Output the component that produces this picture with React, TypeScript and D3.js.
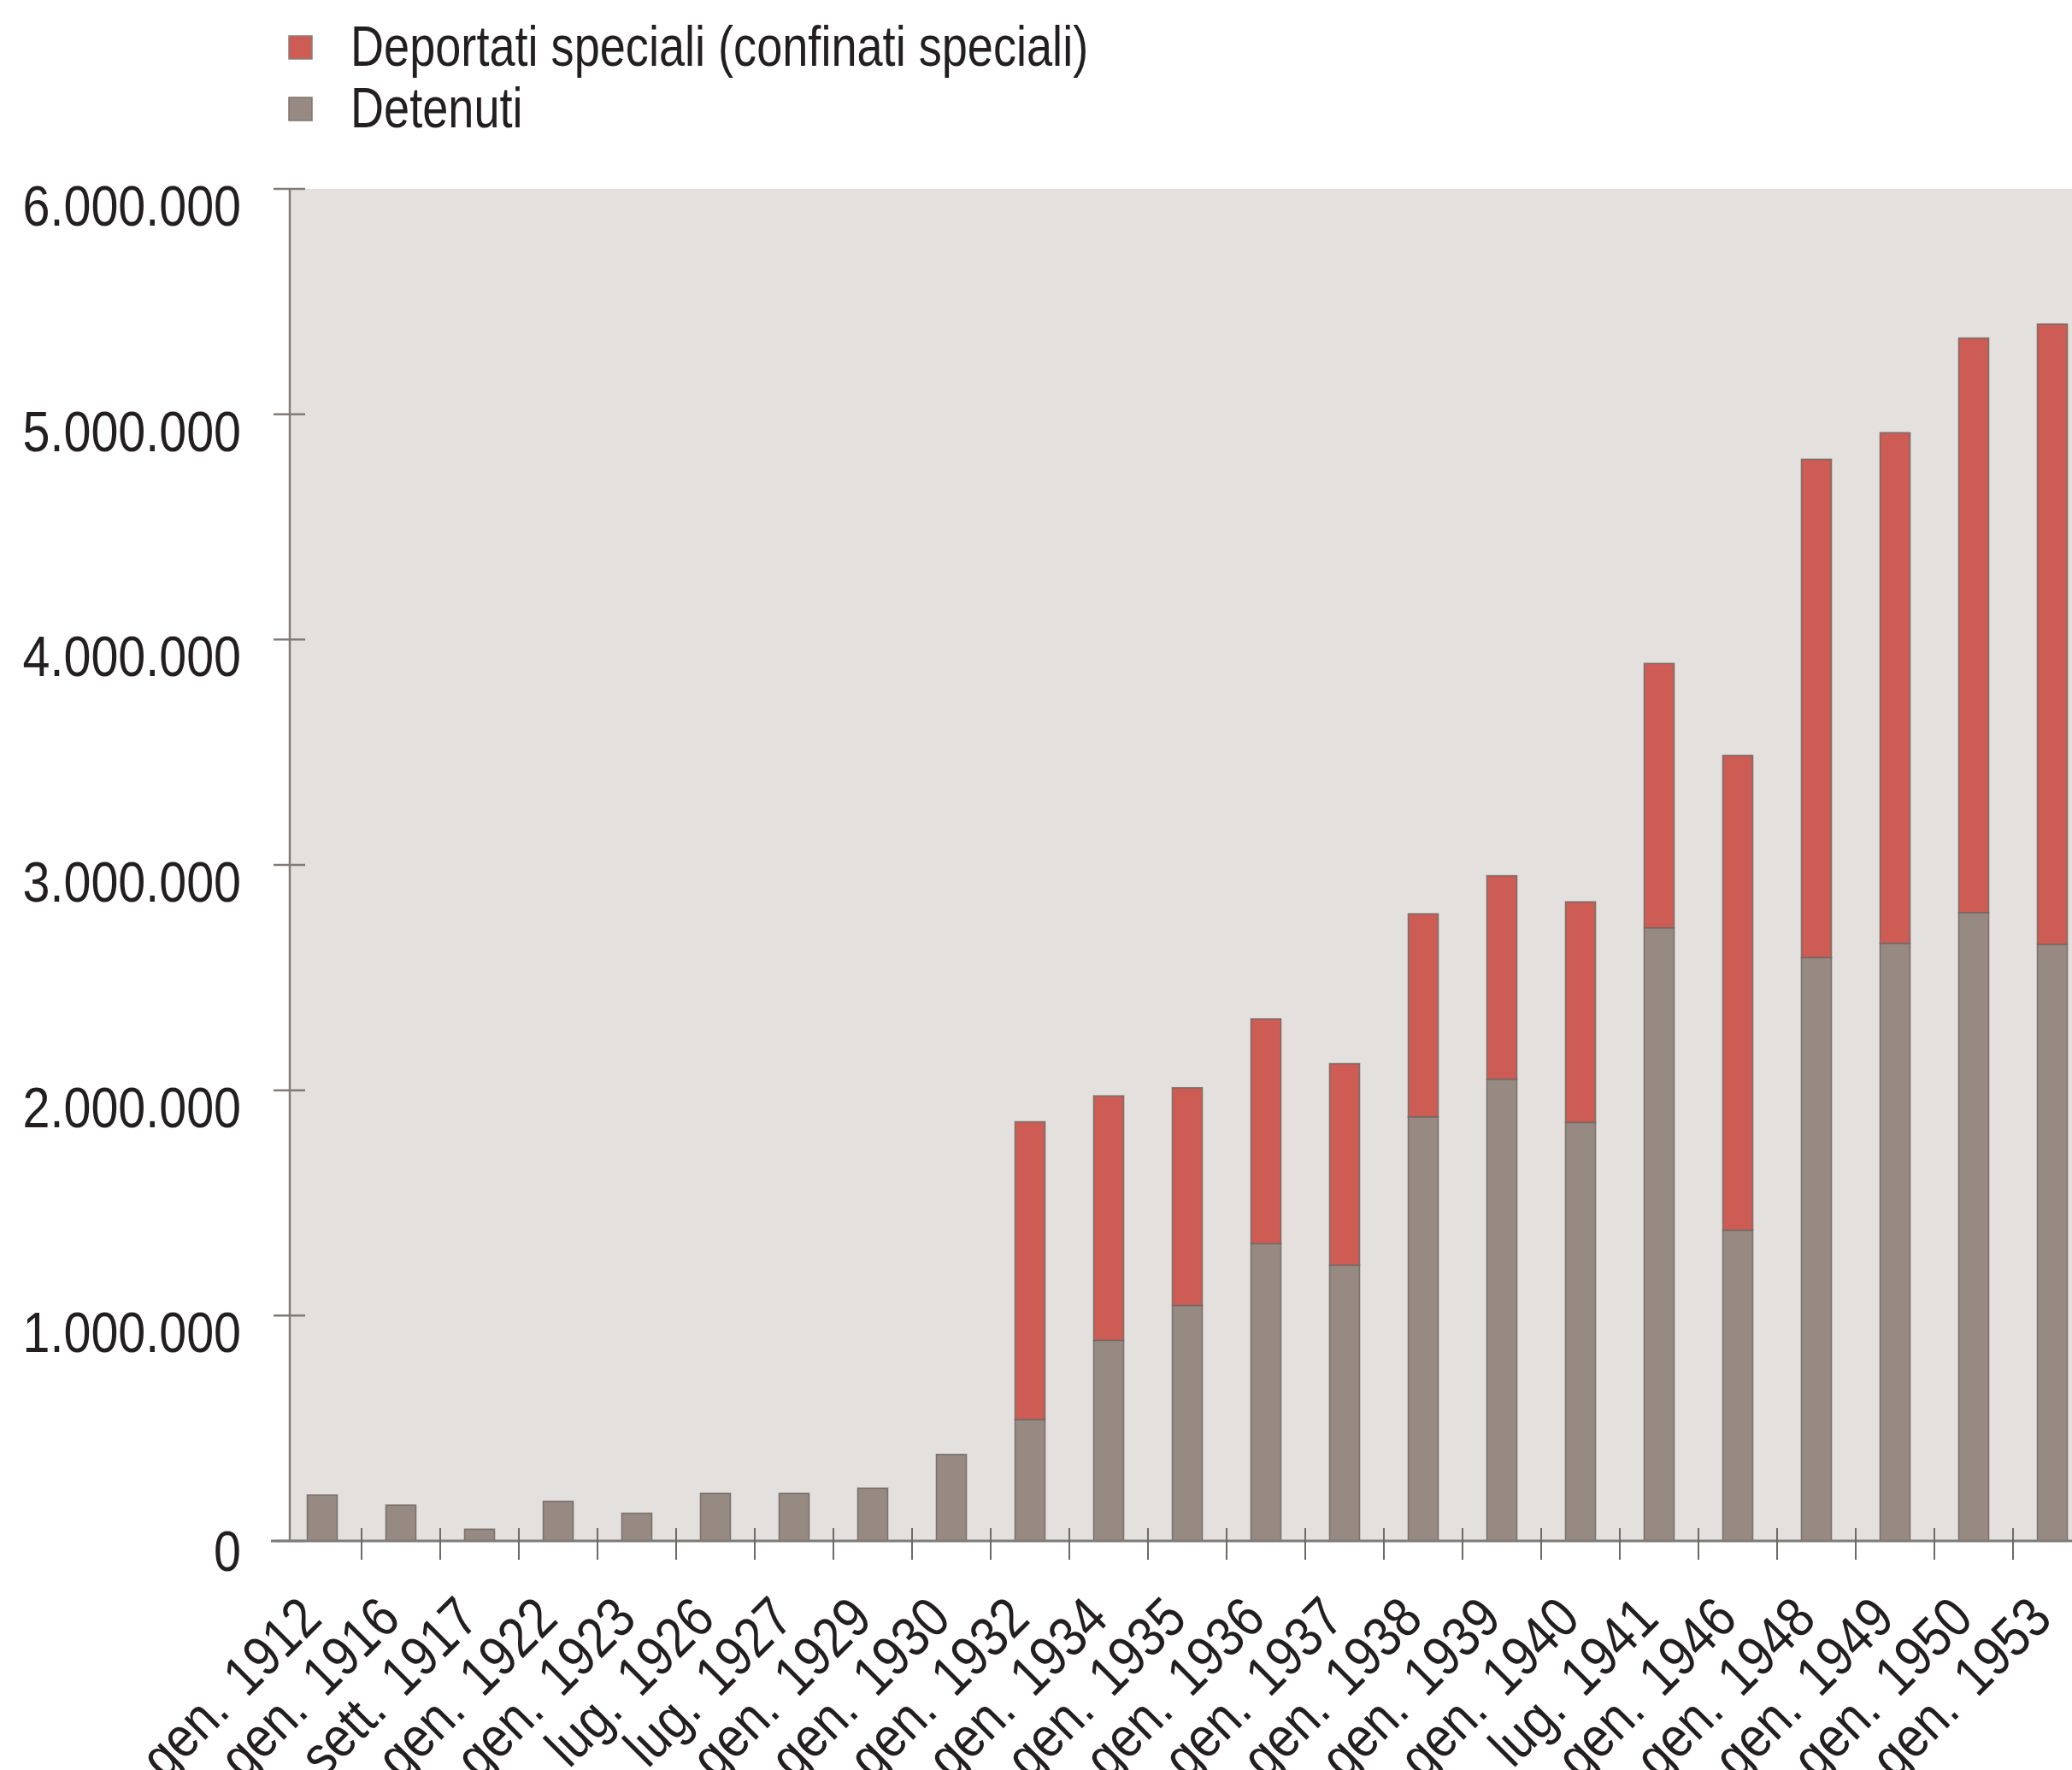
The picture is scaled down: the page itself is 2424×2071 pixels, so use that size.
import React from "react";
import * as d3 from "d3";

const categories = [
  "gen. 1912", "gen. 1916", "sett. 1917", "gen. 1922", "gen. 1923", "lug. 1926",
  "lug. 1927", "gen. 1929", "gen. 1930", "gen. 1932", "gen. 1934", "gen. 1935",
  "gen. 1936", "gen. 1937", "gen. 1938", "gen. 1939", "gen. 1940", "lug. 1941",
  "gen. 1946", "gen. 1948", "gen. 1949", "gen. 1950", "gen. 1953",
];

const detenuti = [
  204000, 159000, 52000, 176000, 123000, 211000, 211000, 234000, 384000,
  539000, 890000, 1045000, 1319000, 1224000, 1882000, 2049000, 1857000, 2721000,
  1379000, 2589000, 2652000, 2788000, 2647000,
];

const deportati = [
  0, 0, 0, 0, 0, 0, 0, 0, 0,
  1321000, 1085000, 966000, 998000, 894000, 901000, 903000, 979000, 1173000,
  2107000, 2211000, 2266000, 2550000, 2753000,
];

const yTicks = [0, 1000000, 2000000, 3000000, 4000000, 5000000, 6000000];
const yTickLabels = ["0", "1.000.000", "2.000.000", "3.000.000", "4.000.000", "5.000.000", "6.000.000"];

const seriesKeys = ["detenuti", "deportati"];
const seriesNames = ["Deportati speciali (confinati speciali)", "Detenuti"];

const COLORS: Record<string, string> = {
  detenuti: "#978a82",
  deportati: "#cc5c54",
};

const FONT = "'Liberation Sans', Arial, Helvetica, sans-serif";
const SX_LEGEND = 0.82;
const SX_AXIS = 0.87;

export default function App() {
  const W = 2424;
  const H = 2071;
  const plotLeft = 339;
  const plotTop = 221;
  const plotBottom = 1803;

  const x = d3.scaleBand<string>().domain(categories).range([331, 331 + 23 * 92]).padding(0);
  const y = d3.scaleLinear().domain([0, 6000000]).range([plotBottom, plotTop]);
  const barW = 35;

  const rows = categories.map((c, i) => ({ cat: c, detenuti: detenuti[i], deportati: deportati[i] }));
  const stack = d3.stack<any>().keys(seriesKeys);
  const stacked = stack(rows);

  return (
    <svg width={W} height={H} style={{ position: "absolute", left: 0, top: 0, display: "block", background: "#fff" }}
      fontFamily={FONT}>
      {/* legend */}
      <rect x={338} y={42} width={27} height={27} fill={COLORS.deportati} stroke="#8a7f7a" strokeWidth={1.5} />
      <text transform={`translate(410,77) scale(${SX_LEGEND},1)`} fontSize={66} fill="#231f20">{seriesNames[0]}</text>
      <rect x={338} y={114} width={27} height={27} fill={COLORS.detenuti} stroke="#7d746f" strokeWidth={1.5} />
      <text transform={`translate(410,149) scale(${SX_LEGEND},1)`} fontSize={66} fill="#231f20">{seriesNames[1]}</text>

      {/* plot background */}
      <rect x={plotLeft} y={plotTop} width={W - plotLeft} height={plotBottom - plotTop} fill="#e4e0dd" />

      {/* bars */}
      {stacked.map((s) => (
        <g key={s.key}>
          {s.map((d, i) => {
            if (d[1] - d[0] <= 0) return null;
            const cx = (x(categories[i]) as number) + x.step() / 2;
            return (
              <rect key={i} x={cx - barW / 2} y={y(d[1])} width={barW} height={y(d[0]) - y(d[1])}
                fill={COLORS[s.key]} stroke="#6e6865" strokeWidth={1.6} strokeOpacity={0.85} />
            );
          })}
        </g>
      ))}

      {/* y axis */}
      <line x1={plotLeft} x2={plotLeft} y1={plotTop} y2={plotBottom} stroke="#7f7b78" strokeWidth={2.5} />
      {yTicks.map((t, i) => (
        <g key={t}>
          <line x1={320} x2={357} y1={y(t)} y2={y(t)} stroke="#7f7b78" strokeWidth={2.5} />
          <text transform={`translate(282,${y(t) + (t === 0 ? 35 : 43)}) scale(${SX_AXIS},1)`} fontSize={66}
            textAnchor="end" fill="#231f20">
            {yTickLabels[i]}
          </text>
        </g>
      ))}

      {/* x axis */}
      <line x1={317} x2={W} y1={plotBottom} y2={plotBottom} stroke="#7f7b78" strokeWidth={3} />
      {categories.map((c, i) =>
        i === 0 ? null : (
          <line key={c} x1={x(c) as number} x2={x(c) as number} y1={1788} y2={1825} stroke="#6e6a66" strokeWidth={2} />
        )
      )}
      {categories.map((c) => {
        const cx = (x(c) as number) + x.step() / 2 + 2;
        return (
          <text key={c} transform={`translate(${cx},1897) rotate(-45) scale(${SX_AXIS},1)`} fontSize={66}
            textAnchor="end" fill="#231f20" wordSpacing={10}>
            {c}
          </text>
        );
      })}
    </svg>
  );
}
